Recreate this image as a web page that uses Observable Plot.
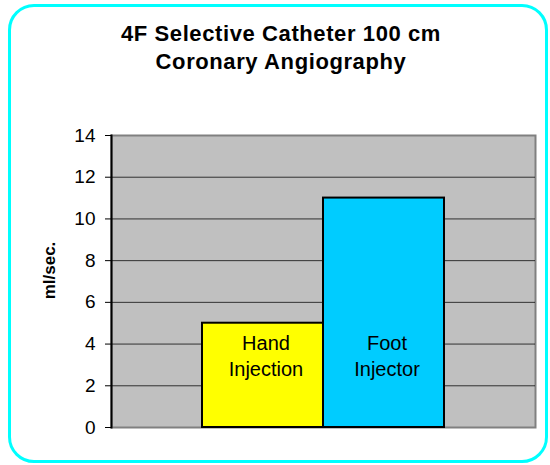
<!DOCTYPE html>
<html><head><meta charset="utf-8">
<script src="https://cdn.jsdelivr.net/npm/d3@7"></script>
<script src="https://cdn.jsdelivr.net/npm/@observablehq/plot@0.6"></script>
<style>
html,body{margin:0;padding:0;background:#fff;}
#wrap{position:relative;width:550px;height:465px;overflow:hidden;font-family:"Liberation Sans",Arial,sans-serif;}
#chart{position:absolute;left:0;top:0;}
#border{position:absolute;left:8px;top:4px;width:540px;height:459px;box-sizing:border-box;border:3px solid #00FFFF;border-radius:26px;pointer-events:none;}
#title{position:absolute;left:12px;top:20px;width:538px;text-align:center;font-weight:bold;font-size:22px;letter-spacing:0.6px;line-height:27.5px;color:#000;}
</style>
</head><body>
<div id="wrap">
  <div id="chart"></div>
  <div id="title">4F Selective Catheter 100 cm<br>Coronary Angiography</div>
  <div id="border"></div>
</div>
<script>
const categories = ["Hand Injection", "Foot Injector"];
const barLabels = ["Hand\nInjection", "Foot\nInjector"];
const values = [5, 11];
const yTicks = [0, 2, 4, 6, 8, 10, 12, 14];
const yLabel = "ml/sec.";
const barColors = ["#FFFF00", "#00CCFF"];

const data = categories.map((c, i) => ({category: c, label: barLabels[i], value: values[i]}));

const chart = Plot.plot({
  width: 550,
  height: 465,
  marginTop: 135,
  marginBottom: 38,
  marginLeft: 111,
  marginRight: 15,
  style: {fontFamily: '"Liberation Sans", Arial, sans-serif', fontSize: "19px", color: "#000", background: "transparent"},
  x: {domain: categories, paddingInner: 0, paddingOuter: 0.752, axis: null, round: false},
  y: {domain: [0, 14], ticks: yTicks},
  color: {domain: categories, range: barColors},
  marks: [
    Plot.frame({fill: "#C0C0C0", stroke: "#808080", strokeWidth: 2}),
    Plot.gridY(yTicks.filter(t => t > 0 && t < 14), {stroke: "#000", strokeOpacity: 0.75}),
    Plot.frame({anchor: "left", stroke: "#000", strokeWidth: 2}),
    Plot.axisY({ticks: yTicks, tickSize: 6, tickPadding: 10, fontSize: 19, label: null}),
    Plot.text([yLabel], {text: d => d, frameAnchor: "left", rotate: -90, dx: -62, dy: -11, fontSize: 17, fontWeight: "bold", lineAnchor: "middle", textAnchor: "middle"}),
    Plot.barY(data, {x: "category", y: "value", fill: "category", stroke: "#000", strokeWidth: 2}),
    Plot.text(data, {x: "category", text: "label", frameAnchor: "bottom", dy: -73, dx: 3, lineAnchor: "middle", lineHeight: 1.3, fontSize: 20})
  ]
});
document.getElementById("chart").appendChild(chart);
</script>
</body></html>
